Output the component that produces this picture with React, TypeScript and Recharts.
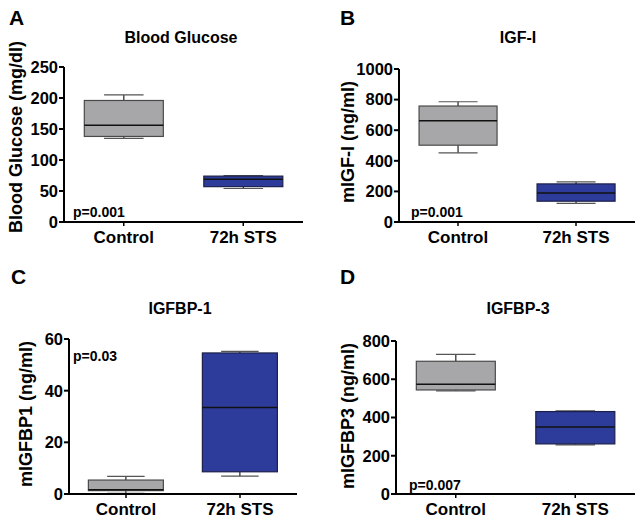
import { BarChart, Bar, XAxis, YAxis, Cell } from "recharts";

const groups = ["Control", "72h STS"];

// box stats: [min, q1, median, q3, max]
const glucoseControl = [135, 138, 156, 196, 205];
const glucoseSts = [54, 57, 69, 74, 75];
const igfControl = [452, 502, 661, 758, 786];
const igfSts = [122, 136, 190, 249, 262];
const bp1Control = [0.3, 1.3, 1.6, 5.4, 6.8];
const bp1Sts = [6.9, 8.6, 33.5, 54.6, 55.2];
const bp3Control = [539, 544, 574, 694, 730];
const bp3Sts = [257, 262, 350, 431, 435];

const glucoseTicks = [0, 50, 100, 150, 200, 250];
const igfTicks = [0, 200, 400, 600, 800, 1000];
const bp1Ticks = [0, 20, 40, 60];
const bp3Ticks = [0, 200, 400, 600, 800];

const boxColors = ["#a7a7a9", "#2d3c9b"];
const FONT = "'Liberation Sans', Arial, Helvetica, sans-serif";

function toRows(control: number[], sts: number[]) {
  return [control, sts].map((s, i) => ({
    name: groups[i],
    range: [s[0], s[4]],
    stats: s,
  }));
}

function BoxShape(props: any) {
  const { x, y, width, height, payload, fill } = props;
  const [mn, q1, med, q3, mx] = payload.stats;
  const top = Math.min(y, y + height);
  const h = Math.abs(height);
  const py = (v: number) => top + ((mx - v) / (mx - mn)) * h;
  const cx = x + width / 2;
  const cap = width / 4;
  const edge = fill === boxColors[1] ? "#1c1f4a" : "#4a4a4a";
  return (
    <g>
      <line x1={cx} x2={cx} y1={py(mx)} y2={py(q3)} stroke="#222" strokeWidth={1.2} />
      <line x1={cx} x2={cx} y1={py(q1)} y2={py(mn)} stroke="#222" strokeWidth={1.2} />
      <line x1={cx - cap} x2={cx + cap} y1={py(mx)} y2={py(mx)} stroke="#555" strokeWidth={1.2} />
      <line x1={cx - cap} x2={cx + cap} y1={py(mn)} y2={py(mn)} stroke="#555" strokeWidth={1.2} />
      <rect
        x={x}
        y={py(q3)}
        width={width}
        height={py(q1) - py(q3)}
        fill={fill}
        stroke={edge}
        strokeWidth={1.2}
      />
      <line x1={x} x2={x + width} y1={py(med)} y2={py(med)} stroke="#111" strokeWidth={1.5} />
    </g>
  );
}

type PanelProps = {
  left: number;
  top: number;
  letter: string;
  letterPos: [number, number];
  title: string;
  titlePos: [number, number];
  yLabel: string;
  yLabelPos: [number, number];
  pText: string;
  pPos: [number, number];
  rows: any[];
  ticks: number[];
  plot: { l: number; t: number; r: number; b: number };
};

function Panel(p: PanelProps) {
  const W = 320;
  const H = 262;
  const yw = 50;
  const xh = 30;
  return (
    <div style={{ position: "absolute", left: p.left, top: p.top, width: W, height: H }}>
      <BarChart
        width={W}
        height={H}
        data={p.rows}
        barCategoryGap="17%"
        margin={{ left: p.plot.l - yw, top: p.plot.t, right: W - p.plot.r, bottom: H - p.plot.b - xh }}
      >
        <XAxis
          dataKey="name"
          height={xh}
          stroke="#000"
          axisLine={{ stroke: "#000", strokeWidth: 2 }}
          tickLine={{ stroke: "#000", strokeWidth: 1.5 }}
          tickSize={4}
          tickMargin={5}
          tick={{ fill: "#000", fontSize: 17, fontWeight: 700, fontFamily: FONT }}
        />
        <YAxis
          width={yw}
          domain={[p.ticks[0], p.ticks[p.ticks.length - 1]]}
          ticks={p.ticks}
          interval={0}
          stroke="#000"
          axisLine={{ stroke: "#000", strokeWidth: 2 }}
          tickLine={{ stroke: "#000", strokeWidth: 2 }}
          tickSize={5}
          tickMargin={1}
          tick={{ fill: "#000", fontSize: 16.5, fontWeight: 700, fontFamily: FONT }}
        />
        <Bar dataKey="range" shape={<BoxShape />} isAnimationActive={false}>
          {p.rows.map((r, i) => (
            <Cell key={r.name} fill={boxColors[i]} />
          ))}
        </Bar>
      </BarChart>
      <svg
        width={W}
        height={H}
        style={{ position: "absolute", left: 0, top: 0, pointerEvents: "none" }}
        fontFamily={FONT}
        fontWeight={700}
      >
        <text x={p.letterPos[0]} y={p.letterPos[1]} fontSize={21} fill="#000">
          {p.letter}
        </text>
        <text x={p.titlePos[0]} y={p.titlePos[1]} fontSize={16} textAnchor="middle" fill="#000">
          {p.title}
        </text>
        <text
          x={p.yLabelPos[0]}
          y={p.yLabelPos[1]}
          fontSize={18}
          textAnchor="middle"
          dominantBaseline="central"
          transform={`rotate(-90 ${p.yLabelPos[0]} ${p.yLabelPos[1]})`}
          fill="#000"
        >
          {p.yLabel}
        </text>
        <text x={p.pPos[0]} y={p.pPos[1]} fontSize={14} fill="#000">
          {p.pText}
        </text>
      </svg>
    </div>
  );
}

export default function App() {
  return (
    <div style={{ position: "absolute", left: 0, top: 0, width: 640, height: 524, background: "#fff" }}>
      <Panel
        left={0}
        top={0}
        letter="A"
        letterPos={[9, 25]}
        title="Blood Glucose"
        titlePos={[181, 43]}
        yLabel="Blood Glucose (mg/dl)"
        yLabelPos={[16, 137]}
        pText="p=0.001"
        pPos={[73, 217]}
        rows={toRows(glucoseControl, glucoseSts)}
        ticks={glucoseTicks}
        plot={{ l: 64, t: 67, r: 303, b: 222 }}
      />
      <Panel
        left={320}
        top={0}
        letter="B"
        letterPos={[20, 25]}
        title="IGF-I"
        titlePos={[198, 43]}
        yLabel="mIGF-I (ng/ml)"
        yLabelPos={[28, 142]}
        pText="p=0.001"
        pPos={[91, 217]}
        rows={toRows(igfControl, igfSts)}
        ticks={igfTicks}
        plot={{ l: 79, t: 69, r: 315, b: 222 }}
      />
      <Panel
        left={0}
        top={262}
        letter="C"
        letterPos={[11, 22]}
        title="IGFBP-1"
        titlePos={[180, 52]}
        yLabel="mIGFBP1 (ng/ml)"
        yLabelPos={[26, 152]}
        pText="p=0.03"
        pPos={[73, 99]}
        rows={toRows(bp1Control, bp1Sts)}
        ticks={bp1Ticks}
        plot={{ l: 69, t: 77, r: 297, b: 232 }}
      />
      <Panel
        left={320}
        top={262}
        letter="D"
        letterPos={[20, 22]}
        title="IGFBP-3"
        titlePos={[198, 52]}
        yLabel="mIGFBP3 (ng/ml)"
        yLabelPos={[28, 154]}
        pText="p=0.007"
        pPos={[89, 228]}
        rows={toRows(bp3Control, bp3Sts)}
        ticks={bp3Ticks}
        plot={{ l: 76, t: 79, r: 315, b: 232 }}
      />
    </div>
  );
}
